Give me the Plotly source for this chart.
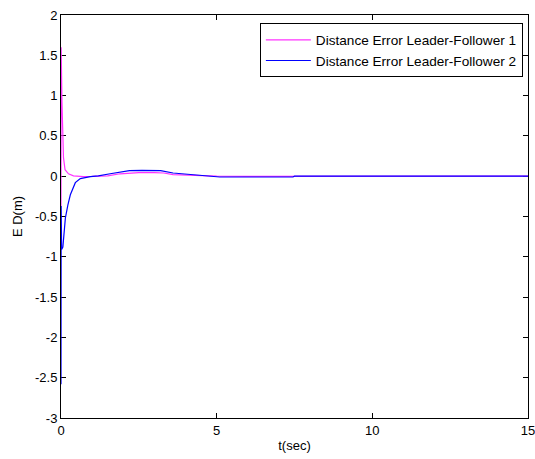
import plotly.graph_objects as go

# Distance error, leader-follower 1 (magenta)
t1 = [0, 0.005, 0.03, 0.06, 0.08, 0.13, 0.24, 0.4, 0.72, 1.0, 1.5, 1.9, 2.2, 2.5, 3.0, 3.3, 3.6, 4.15, 4.6, 5.0, 6.0, 7.3, 7.35, 7.6, 7.65, 9.0, 12.0, 15.0]
e1 = [-0.37, 1.6, 0.93, 0.52, 0.23, 0.08, 0.03, 0.005, -0.005, -0.003, 0.005, 0.03, 0.04, 0.045, 0.045, 0.04, 0.02, 0.01, 0.0, 0.0, -0.002, -0.002, 0.004, 0.004, 0.0, 0.0, 0.0, 0.0]

# Distance error, leader-follower 2 (blue)
t2 = [0, 0.005, 0.02, 0.06, 0.14, 0.22, 0.3, 0.46, 0.62, 0.94, 1.2, 1.58, 1.9, 2.2, 2.6, 3.2, 3.6, 4.15, 4.5, 5.1, 6.0, 7.45, 7.5, 9.0, 12.0, 15.0]
e2 = [-2.58, -0.37, -0.91, -0.88, -0.52, -0.36, -0.23, -0.08, -0.03, -0.005, 0.005, 0.03, 0.055, 0.07, 0.073, 0.07, 0.04, 0.02, 0.008, -0.01, -0.01, -0.01, 0.0, 0.0, 0.0, 0.0]

x_ticks = [0, 5, 10, 15]
y_ticks = [-3, -2.5, -2, -1.5, -1, -0.5, 0, 0.5, 1, 1.5, 2]
y_labels = ["-3", "-2.5", "-2", "-1.5", "-1", "-0.5", "0", "0.5", "1", "1.5", "2"]

fig = go.Figure()
fig.add_trace(go.Scatter(x=t1, y=e1, mode="lines", name="Distance Error Leader-Follower 1",
                         line=dict(color="#ff33ff", width=1.2), cliponaxis=False))
fig.add_trace(go.Scatter(x=t2, y=e2, mode="lines", name="Distance Error Leader-Follower 2",
                         line=dict(color="#0000ff", width=1.2), cliponaxis=False))

axis_common = dict(showline=True, linecolor="black", linewidth=1, mirror="ticks",
                   ticks="inside", ticklen=5, tickcolor="black", showgrid=False,
                   zeroline=False, tickfont=dict(size=13, color="black"),
                   ticklabeloverflow="allow", layer="below traces")
fig.update_xaxes(range=[0, 15], tickvals=x_ticks, title=dict(text="t(sec)", standoff=4,
                 font=dict(size=13, color="black")), **axis_common)
fig.update_yaxes(range=[-3, 2], tickvals=y_ticks, ticktext=y_labels,
                 title=dict(text="E D(m)", standoff=9, font=dict(size=13, color="black")),
                 **axis_common)

fig.update_layout(
    width=535, height=459,
    margin=dict(l=61, r=7, t=15, b=41, autoexpand=False),
    paper_bgcolor="white", plot_bgcolor="white",
    font=dict(family="Liberation Sans, Arial, sans-serif", size=13, color="black"),
    legend=dict(x=0.989, y=0.979, xanchor="right", yanchor="top",
                bordercolor="black", borderwidth=1, bgcolor="white",
                font=dict(size=13.6), tracegroupgap=0, itemwidth=45),
    showlegend=True,
)

fig.write_html("out.html", config={"displayModeBar": False},
               post_script="document.body.style.margin='0';")
